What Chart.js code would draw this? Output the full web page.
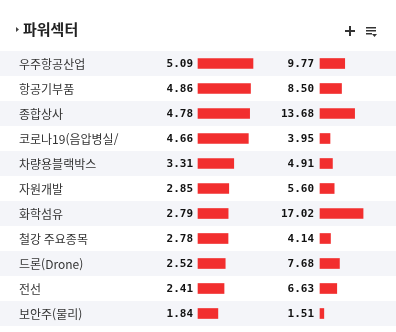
<!DOCTYPE html>
<html lang="ko">
<head>
    <meta charset="UTF-8">
    <title>파워섹터</title>
    <style>
        * {
            margin: 0;
            padding: 0;
            box-sizing: border-box;
        }

        body {
            background-color: #fff;
            width: 396px;
            height: 332px;
            overflow: hidden;
        }

        .chart-container {
            position: relative;
            width: 396px;
            height: 332px;
        }
    </style>
</head>
<body>
    <div class="chart-container">
        <canvas id="sectorChart" width="396" height="332"></canvas>
    </div>

    <script src="https://cdn.jsdelivr.net/npm/chart.js"></script>
    <script>
        const title = '파워섹터';
        const sectors = ['우주항공산업', '항공기부품', '종합상사', '코로나19(음압병실/', '차량용블랙박스',
            '자원개발', '화학섬유', '철강 주요종목', '드론(Drone)', '전선', '보안주(물리)'];
        const changeToday = [5.09, 4.86, 4.78, 4.66, 3.31, 2.85, 2.79, 2.78, 2.52, 2.41, 1.84];
        const changePeriod = [9.77, 8.50, 13.68, 3.95, 4.91, 5.60, 17.02, 4.14, 7.68, 6.63, 1.51];

        const barColor = '#f22e2e';
        const stripeColor = '#f4f5f9';

        // striped rows, labels, numbers and header icons
        const tablePlugin = {
            id: 'tablePlugin',
            beforeDatasetsDraw(chart) {
                const ctx = chart.ctx;
                const y = chart.scales.y;
                const rowH = y.getPixelForValue(1) - y.getPixelForValue(0);
                ctx.save();
                ctx.fillStyle = stripeColor;
                sectors.forEach((s, i) => {
                    if (i % 2 === 0) {
                        const cy = y.getPixelForValue(i);
                        ctx.fillRect(0, cy - rowH / 2, chart.width, rowH);
                    }
                });
                ctx.restore();
            },
            afterDatasetsDraw(chart) {
                const ctx = chart.ctx;
                const y = chart.scales.y;
                const x1 = chart.scales.x1;
                const x2 = chart.scales.x2;
                ctx.save();
                ctx.textBaseline = 'middle';

                ctx.font = '12px "Noto Sans CJK KR", sans-serif';
                ctx.fillStyle = '#333';
                ctx.textAlign = 'left';
                sectors.forEach((s, i) => {
                    ctx.fillText(s, 19, y.getPixelForValue(i) + 1);
                });

                ctx.font = 'bold 11px "DejaVu Sans Mono", monospace';
                ctx.fillStyle = '#111';
                ctx.textAlign = 'right';
                changeToday.forEach((v, i) => {
                    ctx.fillText(v.toFixed(2), x1.getPixelForValue(0) - 5, y.getPixelForValue(i) + 1);
                });
                changePeriod.forEach((v, i) => {
                    ctx.fillText(v.toFixed(2), x2.getPixelForValue(0) - 6, y.getPixelForValue(i) + 1);
                });

                // header
                ctx.fillStyle = '#444';
                ctx.beginPath();
                ctx.moveTo(16, 27);
                ctx.lineTo(19, 29.5);
                ctx.lineTo(16, 32);
                ctx.closePath();
                ctx.fill();

                ctx.font = 'bold 15px "Noto Sans CJK KR", sans-serif';
                ctx.fillStyle = '#222';
                ctx.textAlign = 'left';
                ctx.fillText(title, 23, 29);

                ctx.fillStyle = '#333';
                ctx.fillRect(345, 30, 10, 2);
                ctx.fillRect(349, 26, 2, 10);

                ctx.fillRect(366, 27, 10, 1.5);
                ctx.fillRect(366, 30, 10, 1.5);
                ctx.fillRect(366, 33, 6, 1.5);
                ctx.beginPath();
                ctx.moveTo(372, 34);
                ctx.lineTo(377, 34);
                ctx.lineTo(374.5, 37);
                ctx.closePath();
                ctx.fill();
                ctx.restore();
            }
        };

        new Chart(document.getElementById('sectorChart'), {
            type: 'bar',
            data: {
                labels: sectors,
                datasets: [{
                    data: changeToday,
                    xAxisID: 'x1',
                    backgroundColor: barColor,
                    barThickness: 10,
                    grouped: false
                }, {
                    data: changePeriod,
                    xAxisID: 'x2',
                    backgroundColor: barColor,
                    barThickness: 10,
                    grouped: false
                }]
            },
            options: {
                indexAxis: 'y',
                responsive: false,
                animation: false,
                layout: {
                    padding: { top: 51, bottom: 6, left: 0, right: 0 }
                },
                plugins: {
                    legend: { display: false },
                    tooltip: { enabled: false }
                },
                scales: {
                    y: { display: false, offset: true },
                    x1: { display: false, min: -18.33, max: 18.33 },
                    x2: { display: false, min: -126.5, max: 30.04 }
                }
            },
            plugins: [tablePlugin]
        });
    </script>
</body>
</html>
